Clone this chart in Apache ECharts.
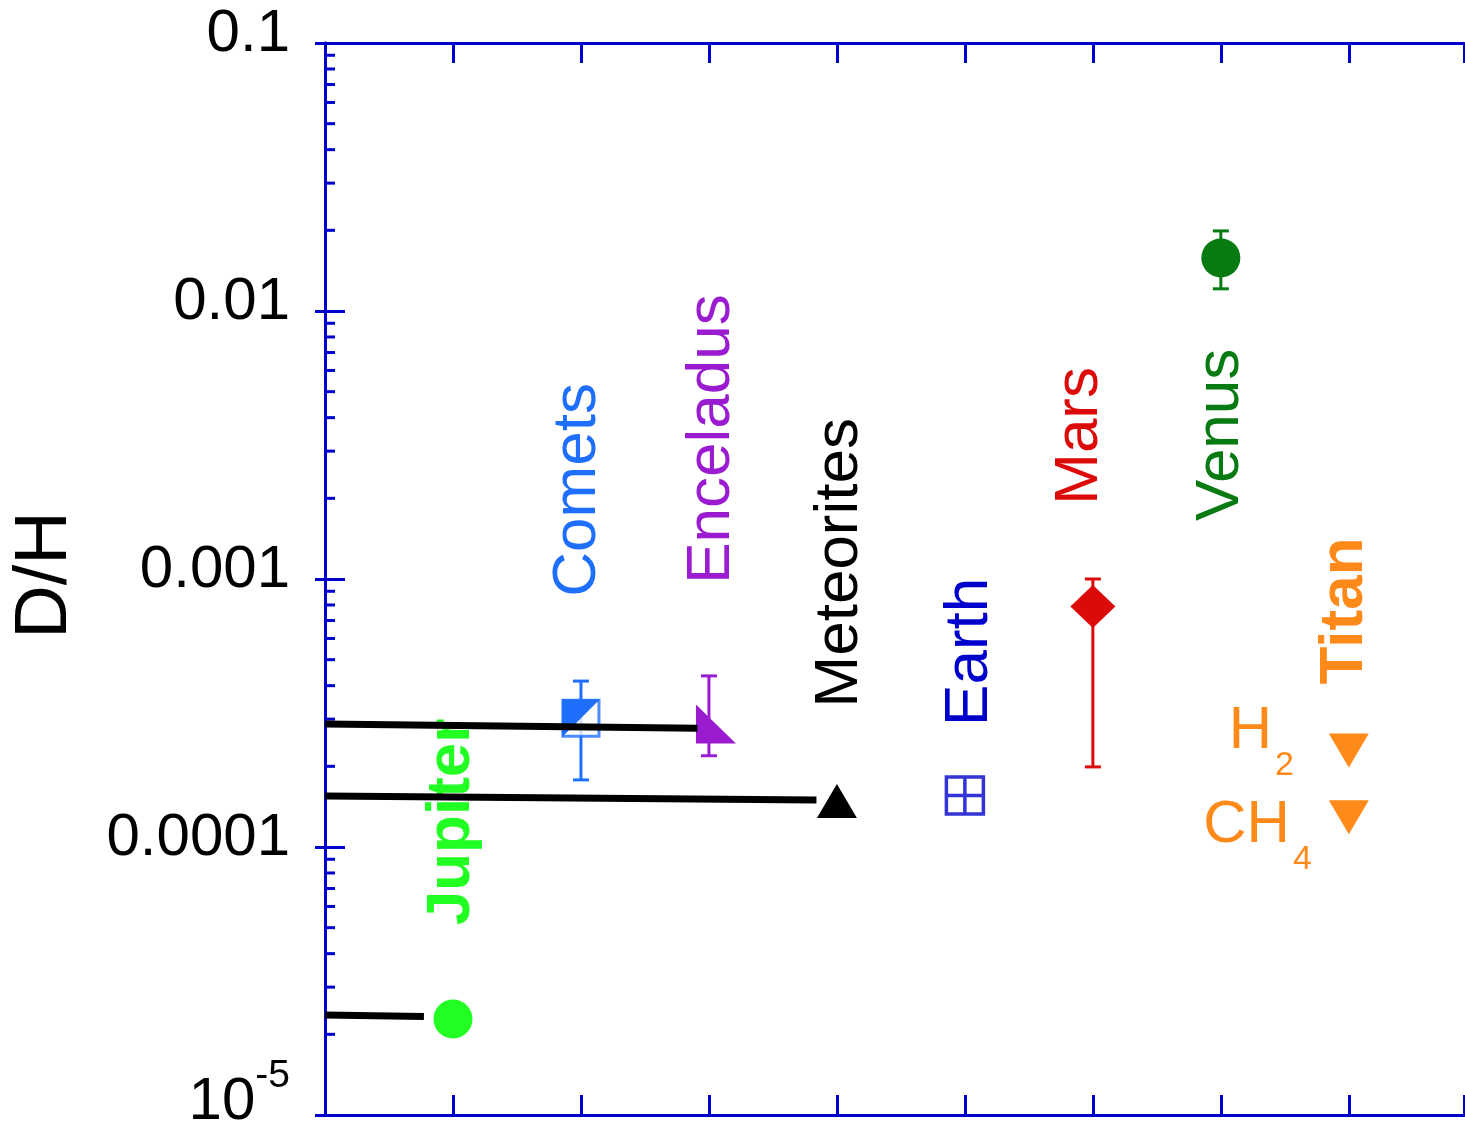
<!DOCTYPE html>
<html>
<head>
<meta charset="utf-8">
<script src="https://cdn.jsdelivr.net/npm/echarts@6/dist/echarts.min.js"></script>
<style>
  html, body { margin: 0; padding: 0; background: #fff; }
  #main { width: 1465px; height: 1130px; }
</style>
</head>
<body>
<div id="main"></div>
<script>
// points [x position, D/H]
const jupiter = [[1, 2.28e-5]];
const comets = [[2, 3.02e-4]];
const enceladus = [[3, 2.73e-4]];
const meteorites = [[4, 1.485e-4]];
const earth = [[5, 1.556e-4]];
const mars = [[6, 7.89e-4]];
const venus = [[7, 1.578e-2]];
const titanH2 = [[8, 2.29e-4]];
const titanCH4 = [[8, 1.29e-4]];

// error bars [x, low, high]
const errorBars = [
  [2, 1.78e-4, 4.16e-4],
  [3, 2.19e-4, 4.35e-4],
  [6, 1.99e-4, 1.0e-3],
  [7, 1.21e-2, 1.99e-2]
];
const errorColors = ['#1f6fff', '#9b1bd1', '#dd0a0a', '#077a12'];

// black reference lines
const lineA = [[0, 2.877e-4], [2.91, 2.773e-4]];
const lineB = [[0, 1.55e-4], [3.84, 1.498e-4]];
const lineC = [[0, 2.36e-5], [0.773, 2.33e-5]];

// y ticks
const yTickExps = [-5, -4, -3, -2, -1];
const yTickLabels = ['10^-5', '0.0001', '0.001', '0.01', '0.1'];
const minorMultipliers = [2, 3, 4, 5, 6, 7, 8, 9];
const minorDecades = [-5, -4, -3, -2];

// body names (rotated labels)
const labelNames = ['Jupiter', 'Comets', 'Enceladus', 'Meteorites', 'Earth', 'Mars', 'Venus', 'Titan'];
const labelX = [0.99, 1.98, 3.02, 4.02, 5.04, 5.9, 7.0, 7.97];
const labelY = [1.24e-4, 2.15e-3, 3.33e-3, 1.15e-3, 5.35e-4, 3.42e-3, 3.45e-3, 7.6e-4];
const labelColors = ['#22ff22', '#1f6fff', '#9b1bd1', '#000000', '#0000cc', '#dd0a0a', '#077a12', '#ff8a1a'];
const labelBold = [true, false, false, false, false, false, false, true];

// Titan species labels
const speciesMain = ['H', 'CH'];
const speciesSub = ['2', '4'];
const speciesX = [7.40, 7.54];
const speciesY = [2.69e-4, 1.20e-4];

const FONT = 'Liberation Sans, Arial, sans-serif';
const AXIS = '#0000cc';
const ORANGE = '#ff8a1a';

const minorTicks = [];
minorDecades.forEach(function (d) {
  minorMultipliers.forEach(function (m) { minorTicks.push([0, m * Math.pow(10, d)]); });
});

const chart = echarts.init(document.getElementById('main'));

function scatter(name, data, symbol, size, color, extra) {
  return Object.assign({
    name: name,
    type: 'scatter',
    data: data,
    symbol: symbol,
    symbolSize: size,
    itemStyle: { color: color, opacity: 1 },
    z: 5,
    silent: true
  }, extra || {});
}

function blackLine(data) {
  return {
    type: 'line',
    data: data,
    symbol: 'none',
    lineStyle: { color: '#000', width: 7 },
    z: 8,
    silent: true
  };
}

const option = {
  backgroundColor: '#fff',
  animation: false,
  grid: { left: 325, right: 1, top: 43, bottom: 15, containLabel: false, outerBoundsMode: 'none' },
  xAxis: [
    {
      type: 'value', min: 0, max: 8.9, interval: 1, position: 'bottom',
      axisLine: { show: true, lineStyle: { color: AXIS, width: 3 } },
      axisTick: { show: true, inside: true, length: 20, lineStyle: { color: AXIS, width: 3 } },
      axisLabel: { show: false },
      splitLine: { show: false }
    },
    {
      type: 'value', min: 0, max: 8.9, interval: 1, position: 'top',
      axisLine: { show: true, lineStyle: { color: AXIS, width: 3 } },
      axisTick: { show: true, inside: true, length: 20, lineStyle: { color: AXIS, width: 3 } },
      axisLabel: { show: false },
      splitLine: { show: false }
    }
  ],
  yAxis: [
    {
      type: 'log', logBase: 10, min: 1e-5, max: 0.1, position: 'left',
      axisLine: { show: true, lineStyle: { color: AXIS, width: 3 } },
      axisTick: { show: true, inside: true, length: 20, lineStyle: { color: AXIS, width: 3 } },
      splitLine: { show: false },
      axisLabel: {
        margin: 35,
        color: '#000',
        fontSize: 60,
        fontFamily: FONT,
        padding: [0, 0, 18, 0],
        formatter: function (v) {
          const e = Math.round(Math.log10(v));
          const lab = yTickLabels[yTickExps.indexOf(e)];
          if (lab && lab.indexOf('^') >= 0) {
            const parts = lab.split('^');
            return '{b|' + parts[0] + '}{s|' + parts[1] + '}';
          }
          return lab || '';
        },
        rich: {
          b: { fontSize: 60, lineHeight: 60, fontFamily: FONT, color: '#000', verticalAlign: 'bottom', padding: [0, 0, 4, 0] },
          s: { fontSize: 39, lineHeight: 39, fontFamily: FONT, color: '#000', verticalAlign: 'bottom', padding: [0, 0, 40, 0] }
        }
      }
    },
    {
      type: 'log', logBase: 10, min: 1e-5, max: 0.1, position: 'right',
      axisLine: { show: true, lineStyle: { color: AXIS, width: 3 } },
      axisTick: { show: true, inside: true, length: 10, lineStyle: { color: AXIS, width: 3 } },
      axisLabel: { show: false },
      splitLine: { show: false }
    }
  ],
  graphic: [
    {
      type: 'text', x: 46, y: 575, rotation: Math.PI / 2,
      style: { text: 'D/H', fill: '#000', fontSize: 74, fontFamily: FONT, align: 'center', verticalAlign: 'middle' }
    }
  ],
  series: [
    // minor ticks on the left axis
    {
      type: 'custom',
      data: minorTicks,
      silent: true,
      z: 3,
      renderItem: function (params, api) {
        const p = api.coord([0, api.value(1)]);
        return {
          type: 'line',
          shape: { x1: p[0], y1: p[1], x2: p[0] + 10, y2: p[1] },
          style: { stroke: AXIS, lineWidth: 3 }
        };
      }
    },
    // body labels
    {
      type: 'custom',
      data: labelX.map(function (x, i) { return [x, labelY[i]]; }),
      silent: true,
      z: 2,
      renderItem: function (params, api) {
        const i = params.dataIndex;
        const p = api.coord([api.value(0), api.value(1)]);
        return {
          type: 'text',
          x: p[0], y: p[1], rotation: Math.PI / 2,
          style: {
            text: labelNames[i], fill: labelColors[i],
            fontSize: 62, fontFamily: FONT, fontWeight: labelBold[i] ? 'bold' : 'normal',
            align: 'center', verticalAlign: 'middle'
          }
        };
      }
    },
    // H2 / CH4 labels
    {
      type: 'custom',
      data: speciesX.map(function (x, i) { return [x, speciesY[i]]; }),
      silent: true,
      z: 2,
      renderItem: function (params, api) {
        const i = params.dataIndex;
        const p = api.coord([api.value(0), api.value(1)]);
        return {
          type: 'group',
          children: [
            {
              type: 'text', x: p[0], y: p[1],
              style: { text: speciesMain[i], fill: ORANGE, fontSize: 60, fontFamily: FONT, align: 'right', verticalAlign: 'middle' }
            },
            {
              type: 'text', x: p[0] + 3, y: p[1] + 34,
              style: { text: speciesSub[i], fill: ORANGE, fontSize: 34, fontFamily: FONT, align: 'left', verticalAlign: 'middle' }
            }
          ]
        };
      }
    },
    // error bars
    {
      type: 'custom',
      data: errorBars,
      silent: true,
      z: 3,
      renderItem: function (params, api) {
        const c = errorColors[params.dataIndex];
        const x = api.value(0);
        const lo = api.coord([x, api.value(1)]);
        const hi = api.coord([x, api.value(2)]);
        const w = 8;
        const st = { stroke: c, lineWidth: 3 };
        return {
          type: 'group',
          children: [
            { type: 'line', shape: { x1: lo[0], y1: lo[1], x2: hi[0], y2: hi[1] }, style: st },
            { type: 'line', shape: { x1: lo[0] - w, y1: lo[1], x2: lo[0] + w, y2: lo[1] }, style: st },
            { type: 'line', shape: { x1: hi[0] - w, y1: hi[1], x2: hi[0] + w, y2: hi[1] }, style: st }
          ]
        };
      }
    },
    scatter('Jupiter', jupiter, 'circle', 39, '#22ff22'),
    scatter('Comets', comets, 'rect', 36, '#ffffff', { itemStyle: { color: '#ffffff', borderColor: '#1f6fff', borderWidth: 3 } }),
    scatter('Comets fill', comets, 'path://M0,0L1,0L0,1Z', 38, '#1f6fff', { z: 6 }),
    scatter('Enceladus', enceladus, 'path://M0,0L0,1L1,1Z', [40, 39], '#9b1bd1', { symbolOffset: [7, -6] }),
    scatter('Meteorites', meteorites, 'triangle', [40, 34], '#000000'),
    scatter('Earth', earth, 'path://M0,0L2,0L2,2L0,2Z M1,0L1,2 M0,1L2,1', 37, 'none',
      { itemStyle: { color: 'none', borderColor: '#0000cc', borderWidth: 3.5 } }),
    scatter('Mars', mars, 'diamond', [45, 43], '#dd0a0a'),
    scatter('Venus', venus, 'circle', 39, '#077a12'),
    scatter('Titan H2', titanH2, 'triangle', [40, 34], ORANGE, { symbolRotate: 180 }),
    scatter('Titan CH4', titanCH4, 'triangle', [40, 34], ORANGE, { symbolRotate: 180 }),
    blackLine(lineA),
    blackLine(lineB),
    blackLine(lineC)
  ]
};

chart.setOption(option);
</script>
</body>
</html>
